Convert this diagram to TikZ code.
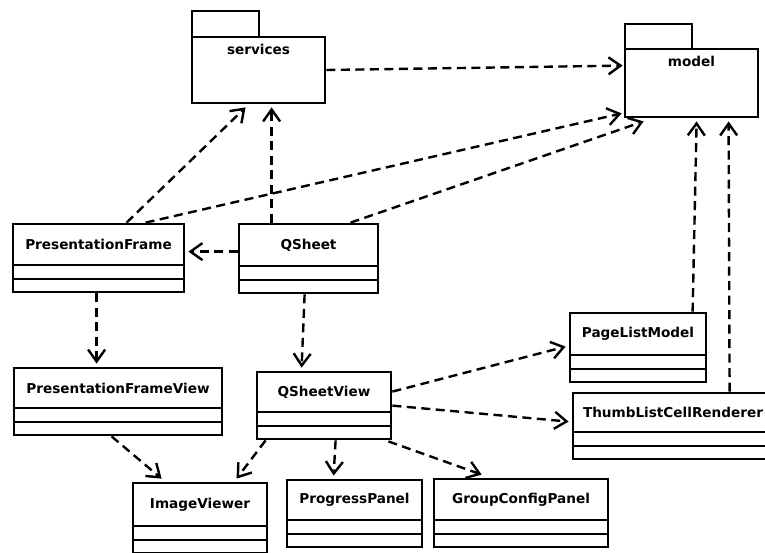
\documentclass[tikz,border=0pt]{standalone}
\usepackage{fontspec}
\setmainfont{DejaVu Sans}
\usetikzlibrary{calc, arrows.meta, fit}

\begin{document}
\begin{tikzpicture}[x=1pt, y=-1pt,
    box/.style={draw, line width=2.8pt, inner sep=0pt},
    dep/.style={line width=2.4pt, dash pattern=on 9pt off 5.5pt,
        -{Straight Barb[length=12pt, width=17pt, line width=2.4pt]}},
    title/.style={font=\fontsize{13.6}{16}\selectfont\bfseries}]
    \useasboundingbox (0,0) rectangle (765,552);
    % packages
    \foreach \nm/\xa/\ya/\xb/\yb/\tb/\txt in {srv/192/37/325/103/11/services, mdl/625/49/758/117/24/model}{
        \draw[line width=2.8pt] (\xa,\tb) rectangle (\xa+67,\ya);
        \node[box, fit={(\xa,\ya) (\xb,\yb)}] (\nm) {};
        \node[title] (\nm-t) at ($(\nm.north)+(0,14)$) {\txt};
    }
    % classes
    \foreach \nm/\xa/\ya/\xb/\yb/\txt in {pframe/13/224/184/292/PresentationFrame,
            qsheet/239/224/378/293/QSheet, pfview/14/368/222/435/PresentationFrameView,
            qsview/257/372/391/439/QSheetView, imgview/133/483/267/553/ImageViewer,
            progress/287/480/422/547/ProgressPanel, groupcfg/434/479/608/547/GroupConfigPanel,
            plmodel/570/313/706/382/PageListModel, thumb/573/393/773/459/ThumbListCellRenderer}{
        \node[box, fit={(\xa,\ya) (\xb,\yb)}] (\nm) {};
        \draw[line width=2.8pt] (\xa,\yb-27) -- (\xb,\yb-27) (\xa,\yb-13) -- (\xb,\yb-13);
        \node[title] (\nm-t) at ({(\xa+\xb)/2},{(\ya+\yb-27)/2}) {\txt};
    }
    % dependencies
    \draw[dep] (srv.east) -- ($(mdl.north west)+(-1,18)$);
    \draw[dep] ($(pframe.north west)+(115,0)$) -- ($(srv.south west)+(55,3)$);
    \draw[dep] ($(qsheet.north west)+(34,0)$) -- ($(srv.south west)+(81,3)$);
    \draw[dep] ($(pframe.north west)+(134,0)$) -- ($(mdl.south west)+(-2,-5)$);
    \draw[dep] ($(qsheet.north west)+(113,0)$) -- ($(mdl.south west)+(20,3)$);
    \draw[dep] ($(qsheet.north west)+(0,29)$) -- ($(pframe.north east)+(3,29)$);
    \draw[dep] ($(pframe.south west)+(85,0)$) -- ($(pfview.north west)+(84,-3)$);
    \draw[dep] ($(qsheet.south west)+(67,0)$) -- ($(qsview.north west)+(46,-3)$);
    \draw[dep] ($(qsview.north east)+(0,21)$) -- ($(plmodel.north west)+(-3,35)$);
    \draw[dep] ($(qsview.north east)+(0,35)$) -- ($(thumb.north west)+(-3,30)$);
    \draw[dep] ($(qsview.south east)+(-4,1)$) -- ($(groupcfg.north west)+(49,-3)$);
    \draw[dep] ($(qsview.south west)+(80,0)$) -- ($(progress.north west)+(48,-3)$);
    \draw[dep] ($(qsview.south west)+(10,0)$) -- ($(imgview.north west)+(105,-3)$);
    \draw[dep] ($(pfview.south west)+(99,0)$) -- ($(imgview.north west)+(30,-3)$);
    \draw[dep] ($(plmodel.north west)+(124,0)$) -- ($(mdl.south west)+(73,3)$);
    \draw[dep] ($(thumb.north west)+(158,0)$) -- ($(mdl.south west)+(105,3)$);
\end{tikzpicture}
\end{document}
